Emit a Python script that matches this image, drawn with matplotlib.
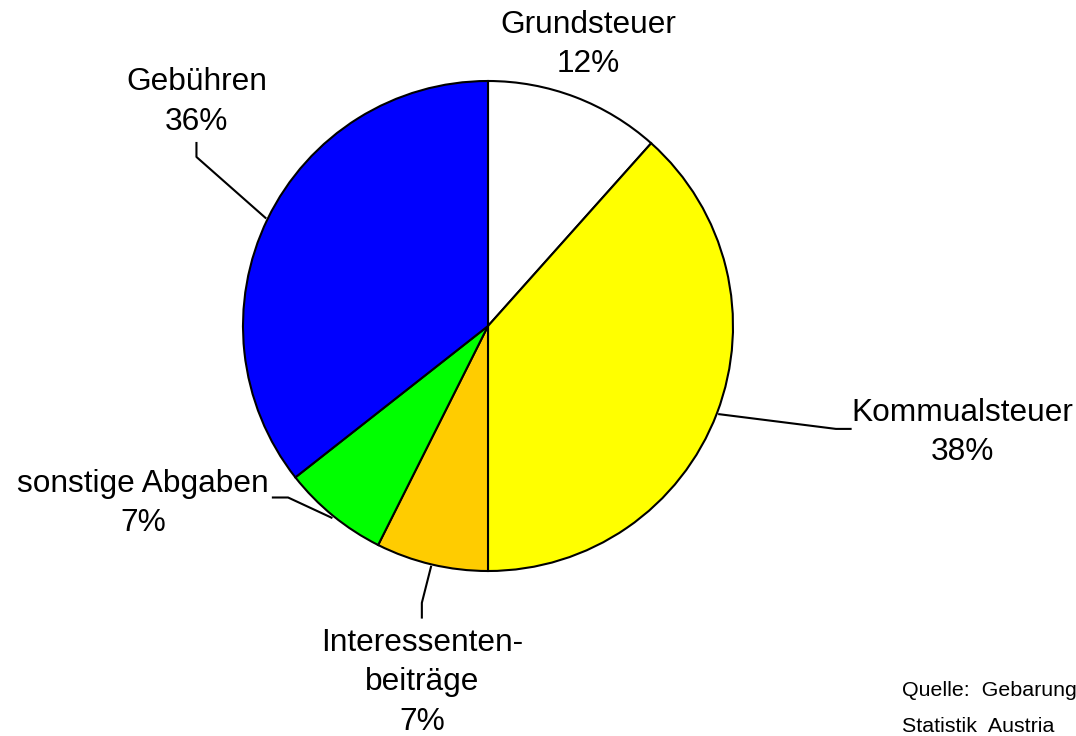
import numpy as np
import matplotlib
matplotlib.use('Agg')
import matplotlib.pyplot as plt

plt.rcParams['font.family'] = ['Liberation Sans', 'DejaVu Sans']

# data
names = ['Grundsteuer', 'Kommualsteuer', 'Interessenten-\nbeiträge', 'sonstige Abgaben', 'Gebühren']
shares = [11.6, 38.4, 7.4, 7.0, 35.6]
colors = ['#FFFFFF', '#FFFF00', '#FFCC00', '#00FF00', '#0000FF']

fig = plt.figure(figsize=(10.76, 7.36), dpi=100)
W, H = 1076, 736
cx, cy, r = 488, 326, 245
ax = fig.add_axes([(cx - r) / W, (H - cy - r) / H, 2 * r / W, 2 * r / H])
ax.axis('off')

wedges, _ = ax.pie(shares, colors=colors, startangle=90, counterclock=False, radius=1,
                   wedgeprops=dict(edgecolor='black', linewidth=1.5))
ax.set_xlim(-1, 1)
ax.set_ylim(-1, 1)

# label placement (data coords, pie radius = 1); None = no leader line
label_pos = [(0.41, 1.148), (1.935, -0.436), (-0.27, -1.455), (-1.408, -0.726), (-1.19, 0.914)]
leaders = [
    None,
    [(1.42, -0.42), (1.48, -0.42)],
    [(-0.27, -1.13), (-0.27, -1.19)],
    [(-0.816, -0.70), (-0.878, -0.70)],
    [(-1.19, 0.69), (-1.19, 0.747)],
]

for w, name, v, pos, ld in zip(wedges, names, shares, label_pos, leaders):
    ax.text(pos[0], pos[1], f'{name}\n{v:.0f}%', ha='center', va='center',
            fontsize=22.8, linespacing=1.4, clip_on=False)
    if ld is not None:
        mid = np.deg2rad((w.theta1 + w.theta2) / 2)
        pts = [(np.cos(mid) * 1.01, np.sin(mid) * 1.01)] + ld
        xs, ys = zip(*pts)
        ax.plot(xs, ys, color='black', lw=1.5, clip_on=False)

fig.text(902 / W, 1 - 690 / H, 'Quelle:  Gebarung', fontsize=15.4, va='center', ha='left')
fig.text(902 / W, 1 - 726 / H, 'Statistik  Austria', fontsize=15.4, va='center', ha='left')

fig.savefig('out.png', dpi=100)
